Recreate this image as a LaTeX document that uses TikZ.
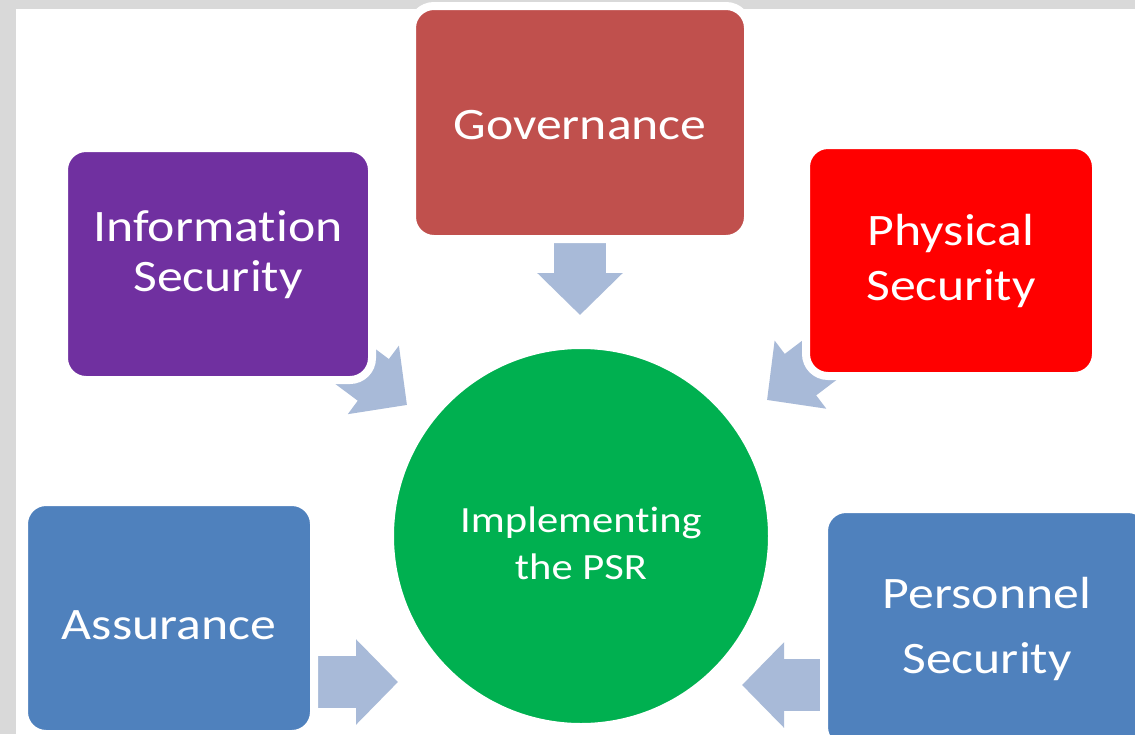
\documentclass[tikz,border=0pt]{standalone}
\usepackage{fontspec}
\setmainfont{Carlito}[FakeStretch=1.15,Ligatures=NoCommon]
\usetikzlibrary{arrows.meta,backgrounds}
\definecolor{govred}{RGB}{192,80,77}
\definecolor{infopurple}{RGB}{112,48,160}
\definecolor{physred}{RGB}{255,0,0}
\definecolor{steelblue}{RGB}{79,129,189}
\definecolor{psrgreen}{RGB}{0,176,80}
\definecolor{flowblue}{RGB}{168,186,216}
\definecolor{framegray}{RGB}{217,217,217}
\begin{document}
\begin{tikzpicture}[x=1pt,y=-1pt,
  box/.style={draw=white, line width=8pt, rounded corners=22pt, text=white,
    align=center, inner sep=0pt, font=\fontsize{45}{50}\selectfont},
  flow/.style={draw=flowblue, line width=52pt,
    -{Triangle[length=42pt,width=83pt]}}]
  \useasboundingbox (0,0) rectangle (1135,734);
  \node[box, fill=govred, minimum width=336pt, minimum height=233pt, text height=35pt] (gov) at (580,122.5) {Governance};
  \node[box, fill=infopurple, minimum width=308pt, minimum height=232pt, text depth=25pt] (info) at (218,264) {Information\\Security};
  \node[box, fill=physred, minimum width=290pt, minimum height=231pt] (phys) at (951,260.5) {Physical\\[5pt]Security};
  \node[box, fill=steelblue, minimum width=290pt, minimum height=232pt, text height=43pt] (assur) at (169,618) {Assurance};
  \node[box, fill=steelblue, minimum width=326pt, minimum height=240pt] (pers) at (987,629) {Personnel\\[15pt]Security};
  \node[draw=white, line width=8pt, circle, fill=psrgreen, minimum size=382pt, inner sep=0pt,
    text=white, align=center, font=\fontsize{37}{47}\selectfont, text height=88pt] (psr) at (581,536) {Implementing\\the PSR};
  \coordinate (govtip) at (580,315);
  \coordinate (infotip) at (407,405);
  \coordinate (phystip) at (767,400);
  \coordinate (assurtip) at (398,682);
  \coordinate (perstip) at (742,685);
  \begin{scope}[on background layer]
    % slide frame
    \fill[framegray] (0,0) rectangle (1135,734);
    \fill[white] (16,9) rectangle (1135,734);
    % arrows into the centre
    \draw[flow] (gov.center) -- (govtip);
    \draw[flow] (info.center) -- (infotip);
    \draw[flow] (phys.center) -- (phystip);
    \draw[flow] (assur.center |- assurtip) -- (assurtip);
    \draw[flow] (pers.center |- perstip) -- (perstip);
  \end{scope}
\end{tikzpicture}
\end{document}
